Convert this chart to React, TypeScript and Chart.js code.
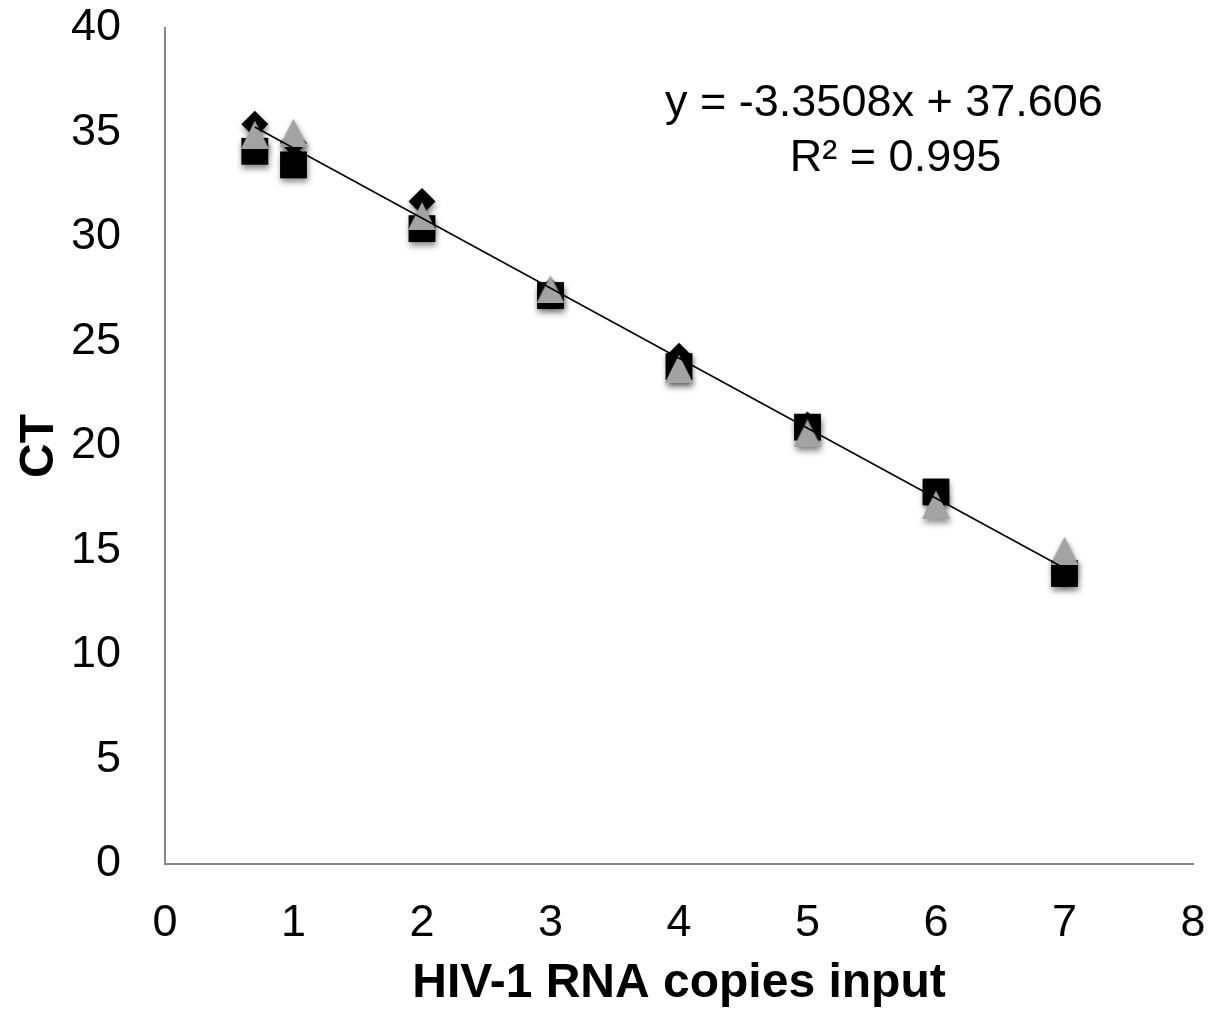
import React, { useEffect, useRef } from "react";
import { Chart, registerables } from "chart.js";

Chart.register(...registerables);

// log10 of HIV-1 RNA copies input per reaction
const LOG_COPIES = [0.699, 1, 2, 3, 4, 5, 6, 7];
// CT values of the three replicate runs
const CT_RUN_1 = [35.4, 34.5, 31.7, 27.4, 24.3, 21.0, 17.6, 14.0];
const CT_RUN_2 = [34.1, 33.45, 30.4, 27.2, 23.8, 20.9, 17.8, 13.9];
const CT_RUN_3 = [34.9, 35.0, 31.0, 27.5, 23.7, 20.6, 17.2, 15.0];

const X_TICKS = [0, 1, 2, 3, 4, 5, 6, 7, 8];
const Y_TICKS = [0, 5, 10, 15, 20, 25, 30, 35, 40];

// Linear trendline fitted to all runs
const FIT_SLOPE = -3.3508;
const FIT_INTERCEPT = 37.606;
const FIT_R2 = 0.995;

const FONT = "'Liberation Sans', Arial, Helvetica, sans-serif";
const GREY_MARKER = "#a3a3a3";

function makeTriangle(size: number, color: string): HTMLCanvasElement {
  const c = document.createElement("canvas");
  c.width = size;
  c.height = size;
  const g = c.getContext("2d")!;
  g.fillStyle = color;
  g.beginPath();
  g.moveTo(size / 2, 0);
  g.lineTo(size, size);
  g.lineTo(0, size);
  g.closePath();
  g.fill();
  return c;
}

// Soft drop shadow under the marker series only
const markerShadow = {
  id: "markerShadow",
  beforeDatasetDraw(chart: any, args: any) {
    const ds = chart.data.datasets[args.index];
    if (!ds.shadow) return;
    const ctx = chart.ctx;
    ctx.save();
    ctx.shadowColor = "rgba(0,0,0,0.45)";
    ctx.shadowBlur = 6;
    ctx.shadowOffsetX = 1;
    ctx.shadowOffsetY = 4;
  },
  afterDatasetDraw(chart: any, args: any) {
    const ds = chart.data.datasets[args.index];
    if (!ds.shadow) return;
    chart.ctx.restore();
  },
};

// Trendline equation and R² text
const fitLabel = {
  id: "fitLabel",
  afterDraw(chart: any) {
    const { ctx, scales } = chart;
    const sign = FIT_INTERCEPT < 0 ? "-" : "+";
    const lines = [
      { text: `y = ${FIT_SLOPE}x ${sign} ${Math.abs(FIT_INTERCEPT)}`, x: 5.595, y: 36.36 },
      { text: `R² = ${FIT_R2}`, x: 5.685, y: 33.73 },
    ];
    ctx.save();
    ctx.fillStyle = "#000";
    ctx.font = `45px ${FONT}`;
    ctx.textAlign = "center";
    ctx.textBaseline = "middle";
    for (const l of lines) {
      ctx.fillText(l.text, scales.x.getPixelForValue(l.x), scales.y.getPixelForValue(l.y));
    }
    ctx.restore();
  },
};

const noEdgePadding = (s: any) => {
  s.paddingTop = 0;
  s.paddingBottom = 0;
  s.paddingLeft = 0;
  s.paddingRight = 0;
};

export default function App() {
  const ref = useRef<HTMLCanvasElement>(null);

  useEffect(() => {
    const canvas = ref.current;
    if (!canvas) return;
    const triangle = makeTriangle(28, GREY_MARKER);
    const xs = [LOG_COPIES[0], LOG_COPIES[LOG_COPIES.length - 1]];
    const toPoints = (ys: number[]) => LOG_COPIES.map((x, i) => ({ x, y: ys[i] }));

    const chart = new Chart(canvas, {
      type: "scatter",
      data: {
        datasets: [
          {
            type: "line",
            label: "Linear fit",
            data: xs.map((x) => ({ x, y: FIT_SLOPE * x + FIT_INTERCEPT })),
            borderColor: "#000",
            borderWidth: 1.5,
            pointRadius: 0,
            showLine: true,
            fill: false,
            order: 0,
          },
          {
            label: "Run 3",
            data: toPoints(CT_RUN_3),
            pointStyle: triangle,
            pointRadius: 14,
            order: 1,
            shadow: true,
          } as any,
          {
            label: "Run 2",
            data: toPoints(CT_RUN_2),
            pointStyle: "rect",
            pointRadius: 19,
            backgroundColor: "#000",
            borderColor: "#000",
            borderWidth: 0,
            order: 2,
            shadow: true,
          } as any,
          {
            label: "Run 1",
            data: toPoints(CT_RUN_1),
            pointStyle: "rectRot",
            pointRadius: 13.5,
            backgroundColor: "#000",
            borderColor: "#000",
            borderWidth: 0,
            order: 3,
            shadow: true,
          } as any,
        ],
      },
      options: {
        responsive: false,
        devicePixelRatio: 1,
        animation: false,
        layout: { padding: { top: 28, right: 17, left: 0, bottom: 0 } },
        plugins: {
          legend: { display: false },
          tooltip: { enabled: false },
        },
        scales: {
          x: {
            type: "linear",
            min: 0,
            max: 8,
            afterBuildTicks: (s: any) => {
              s.ticks = X_TICKS.map((value) => ({ value }));
            },
            afterFit: (s: any) => {
              s.height = 146;
              noEdgePadding(s);
            },
            grid: { display: false },
            border: { display: true, color: "#868686", width: 2 },
            ticks: {
              color: "#000",
              padding: 25,
              maxRotation: 0,
              font: { family: FONT, size: 45 },
            },
            title: {
              display: true,
              text: "HIV-1 RNA copies input",
              color: "#000",
              padding: { top: 0, bottom: 2 },
              font: { family: FONT, size: 48, weight: "bold", lineHeight: 1 },
            },
          },
          y: {
            type: "linear",
            min: 0,
            max: 40,
            afterBuildTicks: (s: any) => {
              s.ticks = Y_TICKS.map((value) => ({ value }));
            },
            afterFit: (s: any) => {
              s.width = 165;
              noEdgePadding(s);
            },
            grid: { display: false },
            border: { display: true, color: "#868686", width: 2 },
            ticks: {
              color: "#000",
              padding: 36,
              font: { family: FONT, size: 45 },
            },
            title: {
              display: true,
              text: "CT",
              color: "#000",
              padding: { top: 16, bottom: 0 },
              font: { family: FONT, size: 48, weight: "bold", lineHeight: 1 },
            },
          },
        },
      },
      plugins: [markerShadow, fitLabel],
    });

    return () => chart.destroy();
  }, []);

  return (
    <div
      style={{
        position: "absolute",
        left: 0,
        top: 0,
        width: 1212,
        height: 1010,
        background: "#fff",
      }}
    >
      <canvas ref={ref} width={1212} height={1010} style={{ display: "block", width: 1212, height: 1010 }} />
    </div>
  );
}
